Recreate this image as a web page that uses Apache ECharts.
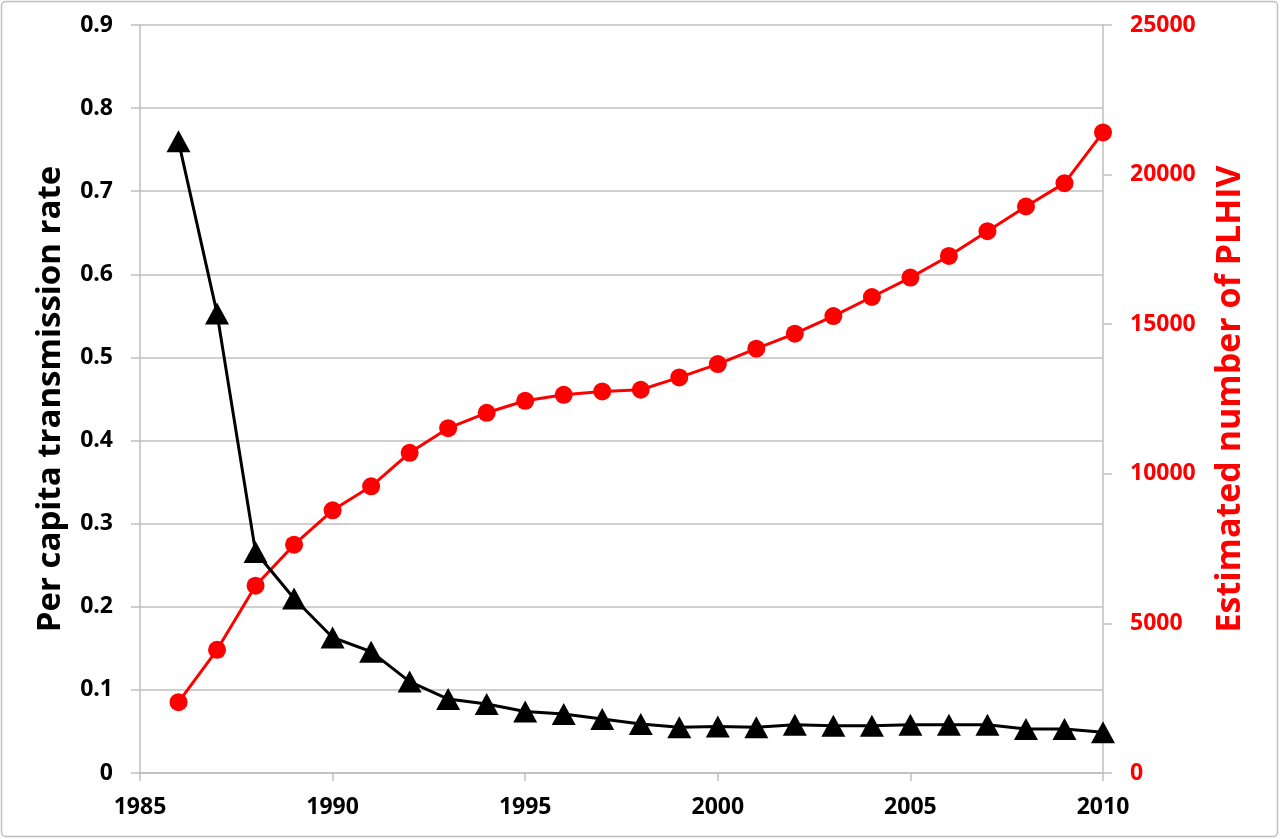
<!DOCTYPE html>
<html>
<head>
<meta charset="utf-8">
<script src="https://cdn.jsdelivr.net/npm/echarts@6/dist/echarts.min.js"></script>
<style>
html,body{margin:0;padding:0;background:#fff;}
#chart{width:1280px;height:839px;}
</style>
</head>
<body>
<div id="chart"></div>
<script>
const years = [1986,1987,1988,1989,1990,1991,1992,1993,1994,1995,1996,1997,1998,1999,2000,2001,2002,2003,2004,2005,2006,2007,2008,2009,2010];
const transmissionRate = [0.760,0.553,0.266,0.210,0.163,0.146,0.110,0.089,0.083,0.074,0.071,0.065,0.059,0.055,0.056,0.055,0.058,0.057,0.057,0.058,0.058,0.058,0.053,0.053,0.049];
const plhiv = [2366,4117,6259,7631,8779,9583,10700,11525,12039,12440,12641,12752,12809,13221,13667,14181,14683,15273,15909,16558,17281,18107,18934,19714,21411];
const xTicks = {min:1985, max:2010, interval:5};
const leftTicks = {min:0, max:0.9, interval:0.1};
const rightTicks = {min:0, max:25000, interval:5000};
const leftTitle = 'Per capita transmission rate';
const rightTitle = 'Estimated number of PLHIV';

const font = '"Open Sans", "Noto Sans", sans-serif';
const gray = '#BFBFBF';
const chart = echarts.init(document.getElementById('chart'));
chart.setOption({
  animation:false,
  backgroundColor:'#fff',
  graphic:[{type:'rect',shape:{x:1.5,y:1.5,width:1276,height:835,r:4},style:{fill:'none',stroke:'#BFBFBF',lineWidth:1.5},silent:true}],
  grid:{left:140,right:177,top:25,bottom:66},
  xAxis:{
    type:'value', min:xTicks.min, max:xTicks.max, interval:xTicks.interval,
    axisLine:{show:true,lineStyle:{color:gray,width:1.5}},
    axisTick:{show:true,length:8,lineStyle:{color:gray,width:1.5}},
    splitLine:{show:false},
    axisLabel:{color:'#000',fontFamily:font,fontWeight:'bold',fontSize:23,margin:23,
      formatter:v=>String(v)}
  },
  yAxis:[{
    type:'value', min:leftTicks.min, max:leftTicks.max, interval:leftTicks.interval,
    position:'left',
    name:leftTitle, nameLocation:'middle', nameGap:73,
    nameTextStyle:{color:'#000',fontFamily:font,fontWeight:'bold',fontSize:33},
    axisLine:{show:true,lineStyle:{color:gray,width:1.5}},
    axisTick:{show:true,length:9,lineStyle:{color:gray,width:1.5}},
    splitLine:{show:true,lineStyle:{color:gray,width:1.5}},
    axisLabel:{color:'#000',fontFamily:font,fontWeight:'bold',fontSize:23,margin:27,
      formatter:v=>v===0?'0':v.toFixed(1)}
  },{
    type:'value', min:rightTicks.min, max:rightTicks.max, interval:rightTicks.interval,
    position:'right',
    name:rightTitle, nameLocation:'middle', nameGap:110,
    nameTextStyle:{color:'#FF0000',fontFamily:font,fontWeight:'bold',fontSize:34},
    axisLine:{show:true,lineStyle:{color:gray,width:1.5}},
    axisTick:{show:true,length:9,lineStyle:{color:gray,width:1.5}},
    splitLine:{show:false},
    axisLabel:{color:'#FF0000',fontFamily:font,fontWeight:'bold',fontSize:23,margin:27,
      formatter:v=>String(v)}
  }],
  series:[{
    type:'line', yAxisIndex:1, z:2,
    data:years.map((y,i)=>[y,plhiv[i]]),
    symbol:'circle', symbolSize:18,
    lineStyle:{color:'#FF0000',width:3},
    itemStyle:{color:'#FF0000'}
  },{
    type:'line', yAxisIndex:0, z:3,
    data:years.map((y,i)=>[y,transmissionRate[i]]),
    symbol:'triangle', symbolSize:[24,22],
    lineStyle:{color:'#000',width:3},
    itemStyle:{color:'#000'}
  }]
});
</script>
</body>
</html>
